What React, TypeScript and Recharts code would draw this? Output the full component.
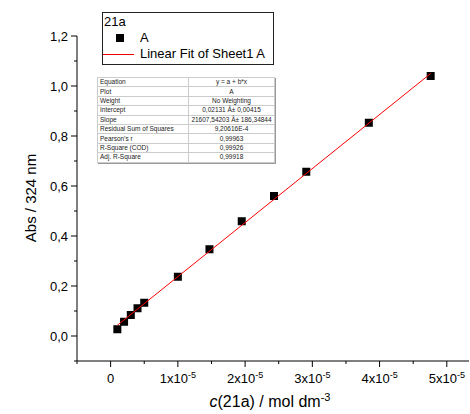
import { ScatterChart, Scatter, XAxis, YAxis } from "recharts";

// measured points (mol dm^-3 vs absorbance at 324 nm)
const concentration = [1e-6, 2e-6, 3e-6, 4e-6, 5e-6, 1e-5, 1.47e-5, 1.95e-5, 2.43e-5, 2.91e-5, 3.84e-5, 4.76e-5];
const absorbance = [0.027, 0.057, 0.084, 0.111, 0.133, 0.237, 0.347, 0.459, 0.56, 0.657, 0.853, 1.04];

// ends of the linear fit line
const fitX = [1e-6, 4.76e-5];
const fitY = [0.043, 1.05];

const xMajor = [0, 1e-5, 2e-5, 3e-5, 4e-5, 5e-5];
const xMajorLabels = ["0", "1", "2", "3", "4", "5"];
const xMinor = [-0.5e-5, 0.5e-5, 1.5e-5, 2.5e-5, 3.5e-5, 4.5e-5];
const yMajor = [0, 0.2, 0.4, 0.6, 0.8, 1.0, 1.2];
const yMajorLabels = ["0,0", "0,2", "0,4", "0,6", "0,8", "1,0", "1,2"];
const yMinor = [-0.1, 0.1, 0.3, 0.5, 0.7, 0.9, 1.1];

const fitRows = [
  ["Equation", "y = a + b*x"],
  ["Plot", "A"],
  ["Weight", "No Weighting"],
  ["Intercept", "0,02131 Â± 0,00415"],
  ["Slope", "21607,54203 Â± 186,34844"],
  ["Residual Sum of Squares", "9,20616E-4"],
  ["Pearson's r", "0,99963"],
  ["R-Square (COD)", "0,99926"],
  ["Adj. R-Square", "0,99918"],
];

const points = concentration.map((c, i) => ({ x: c, y: absorbance[i] }));
const fitLine = fitX.map((c, i) => ({ x: c, y: fitY[i] }));

const FONT = '"Liberation Sans", Arial, sans-serif';

const XTick = (props: any) => {
  const { x, y, payload } = props;
  const idx = xMajor.indexOf(payload.value);
  if (idx < 0) {
    return <line x1={x} x2={x} y1={y} y2={y + 3} stroke="#000" />;
  }
  const m = xMajorLabels[idx];
  return (
    <g>
      <line x1={x} x2={x} y1={y} y2={y + 6} stroke="#000" />
      <text x={x} y={y + 22} textAnchor="middle" fontSize={13} fontFamily={FONT} fill="#000">
        {m === "0" ? (
          "0"
        ) : (
          <>
            {m}x10
            <tspan dy={-5} fontSize={9}>-5</tspan>
          </>
        )}
      </text>
    </g>
  );
};

const YTick = (props: any) => {
  const { x, y, payload } = props;
  const idx = yMajor.indexOf(payload.value);
  if (idx < 0) {
    return <line x1={x} x2={x - 3} y1={y} y2={y} stroke="#000" />;
  }
  return (
    <g>
      <line x1={x} x2={x - 6} y1={y} y2={y} stroke="#000" />
      <text x={x - 9} y={y} dy={5} textAnchor="end" fontSize={13} fontFamily={FONT} fill="#000">
        {yMajorLabels[idx]}
      </text>
    </g>
  );
};

const Square = (props: any) => {
  const { cx, cy } = props;
  return <rect x={cx - 4} y={cy - 4} width={8} height={8} fill="#000" />;
};

const Legend = () => (
  <div
    style={{
      position: "absolute",
      left: 102,
      top: 12,
      width: 172,
      height: 53,
      boxSizing: "border-box",
      border: "1px solid #222",
      background: "#fff",
      fontFamily: FONT,
      fontSize: 13,
    }}
  >
    <div style={{ position: "absolute", left: 1, top: 2, lineHeight: "14px" }}>21a</div>
    <div style={{ position: "absolute", left: 13, top: 21, width: 8, height: 8, background: "#000" }} />
    <div style={{ position: "absolute", left: 37, top: 18, lineHeight: "14px" }}>A</div>
    <div style={{ position: "absolute", left: 0, top: 41, width: 31, height: 1, background: "#e00" }} />
    <div style={{ position: "absolute", left: 37, top: 34, lineHeight: "14px", whiteSpace: "nowrap" }}>
      Linear Fit of Sheet1 A
    </div>
  </div>
);

const FitTable = () => (
  <table
    style={{
      position: "absolute",
      left: 97,
      top: 77,
      width: 178,
      borderCollapse: "collapse",
      tableLayout: "fixed",
      border: "1px solid #444",
      boxShadow: "1px 1px 0 #999",
      background: "#fff",
      fontFamily: FONT,
      fontSize: 6.5,
      color: "#222",
    }}
  >
    <tbody>
      {fitRows.map(([k, v]) => (
        <tr key={k} style={{ height: 9.4 }}>
          <td style={{ width: 86, padding: "0 2px", border: "1px solid #ccc", lineHeight: "8px", whiteSpace: "nowrap" }}>{k}</td>
          <td style={{ padding: 0, border: "1px solid #ccc", textAlign: "center", lineHeight: "8px", whiteSpace: "nowrap" }}>{v}</td>
        </tr>
      ))}
    </tbody>
  </table>
);

const YLabel = () => {
  const cx = 31;
  const cy = 198;
  return (
    <text x={cx} y={cy} transform={`rotate(-90 ${cx} ${cy})`} textAnchor="middle" dy={5} fontSize={15} fontFamily={FONT} fill="#000">
      Abs / 324 nm
    </text>
  );
};

const XLabel = (props: any) => {
  const { viewBox } = props;
  const cx = 270;
  return (
    <text x={cx} y={viewBox.y + 46} textAnchor="middle" fontSize={16} fontFamily={FONT} fill="#000">
      <tspan fontStyle="italic">c</tspan>
      (21a) / mol dm
      <tspan dy={-6} fontSize={11}>-3</tspan>
    </text>
  );
};

export default function App() {
  return (
    <div style={{ position: "absolute", left: 0, top: 0, width: 470, height: 414, background: "#fff" }}>
      <ScatterChart width={470} height={414} margin={{ top: 36, right: 1, bottom: 0, left: 0 }}>
        <XAxis
          type="number"
          dataKey="x"
          domain={[-0.5e-5, 5.33e-5]}
          ticks={[...xMinor, ...xMajor].sort((a, b) => a - b)}
          interval={0}
          tickSize={0}
          tickMargin={0}
          tick={<XTick />}
          height={53}
          stroke="#000"
          allowDataOverflow
          label={<XLabel />}
        />
        <YAxis
          type="number"
          dataKey="y"
          domain={[-0.1, 1.2]}
          ticks={[...yMinor, ...yMajor].sort((a, b) => a - b)}
          interval={0}
          tickSize={0}
          tickMargin={0}
          tick={<YTick />}
          width={77}
          stroke="#000"
          allowDataOverflow
          label={<YLabel />}
        />
        <Scatter data={points} shape={<Square />} isAnimationActive={false} />
        <Scatter
          data={fitLine}
          line={{ stroke: "#f00", strokeWidth: 1 }}
          shape={() => <g />}
          isAnimationActive={false}
        />
      </ScatterChart>
      <Legend />
      <FitTable />
    </div>
  );
}
